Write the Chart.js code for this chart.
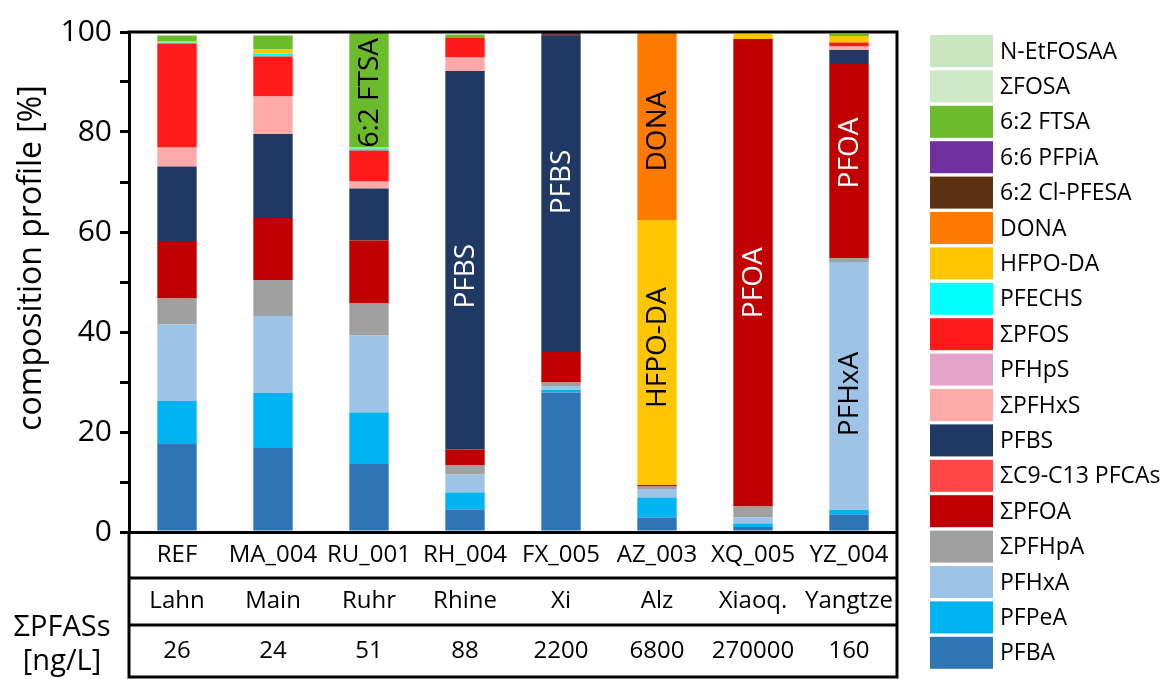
<!DOCTYPE html>
<html>
<head>
<meta charset="utf-8">
<script src="https://cdn.jsdelivr.net/npm/chart.js@4/dist/chart.umd.min.js"></script>
<style>
  html, body { margin: 0; padding: 0; background: #ffffff; }
  canvas { display: block; }
</style>
</head>
<body>
<canvas id="profile" width="1172" height="679"></canvas>
<script>
// Sampling sites, rivers and total PFAS concentration (ng/L)
const samples = ['REF', 'MA_004', 'RU_001', 'RH_004', 'FX_005', 'AZ_003', 'XQ_005', 'YZ_004'];
const rivers  = ['Lahn', 'Main', 'Ruhr', 'Rhine', 'Xi', 'Alz', 'Xiaoq.', 'Yangtze'];
const sumPFAS = ['26', '24', '51', '88', '2200', '6800', '270000', '160'];

// Composition profile (%) per compound, one value per sample
const PFBA      = [17.6, 16.8, 13.6,  4.5, 27.9,  2.9,  1.0,  3.5];
const PFPeA     = [ 8.6, 11.0, 10.3,  3.4,  0.5,  4.0,  0.7,  0.9];
const PFHxA     = [15.3, 15.4, 15.4,  3.6,  0.8,  1.7,  1.2, 49.6];
const PFHpA     = [ 5.2,  7.2,  6.4,  1.9,  0.7,  0.5,  2.2,  0.8];
const PFOA      = [11.5, 12.4, 12.6,  3.1,  6.1,  0.3, 93.5, 38.8];
const PFCA_C9_13= [ 0,    0,    0,    0,    0,    0,    0,    0  ];
const PFBS      = [14.9, 16.8, 10.4, 75.7, 63.2,  0,    0,    2.8];
const PFHxS     = [ 3.8,  7.5,  1.4,  2.7,  0,    0,    0,    0.7];
const PFHpS     = [ 0,    0,    0,    0,    0,    0,    0,    0  ];
const PFOS      = [20.8,  8.0,  6.2,  3.9,  0,    0,    0,    0.8];
const PFECHS    = [ 0.2,  0.6,  0.4,  0,    0,    0,    0,    0  ];
const HFPO_DA   = [ 0.3,  0.8,  0.2,  0,    0,   53.0,  1.0,  1.3];
const DONA      = [ 0,    0,    0,    0,    0,   37.6,  0,    0  ];
const Cl_PFESA  = [ 0,    0,    0,    0,    0.6,  0,    0,    0  ];
const PFPiA     = [ 0,    0,    0,    0,    0,    0,    0,    0  ];
const FTSA_62   = [ 1.1,  2.8, 23.1,  0.7,  0,    0,    0,    0.4];
const FOSA      = [ 0,    0,    0,    0,    0,    0,    0,    0  ];
const N_EtFOSAA = [ 0,    0,    0,    0,    0,    0,    0,    0  ];

const yTicks = [0, 20, 40, 60, 80, 100];

const FONT = "'Open Sans', 'Noto Sans', sans-serif";

// stacking order, bottom to top
const series = [
  ['PFBA',            PFBA,       '#2e75b6'],
  ['PFPeA',           PFPeA,      '#00b4f2'],
  ['PFHxA',           PFHxA,      '#9dc3e6'],
  ['ΣPFHpA',          PFHpA,      '#a0a0a0'],
  ['ΣPFOA',           PFOA,       '#c00000'],
  ['ΣC9-C13 PFCAs',   PFCA_C9_13, '#ff4747'],
  ['PFBS',            PFBS,       '#1f3864'],
  ['ΣPFHxS',          PFHxS,      '#ffa9a9'],
  ['PFHpS',           PFHpS,      '#e6a3c9'],
  ['ΣPFOS',           PFOS,       '#ff1a1a'],
  ['PFECHS',          PFECHS,     '#00ffff'],
  ['HFPO-DA',         HFPO_DA,    '#ffc600'],
  ['DONA',            DONA,       '#ff7a00'],
  ['6:2 Cl-PFESA',    Cl_PFESA,   '#6a4048'],
  ['6:6 PFPiA',       PFPiA,      '#7030a0'],
  ['6:2 FTSA',        FTSA_62,    '#6cbb2c'],
  ['ΣFOSA',           FOSA,       '#cde8c5'],
  ['N-EtFOSAA',       N_EtFOSAA,  '#c8e6bf']
];

// legend swatch colours (legend shows the brown tone for Cl-PFESA)
const legendColors = { '6:2 Cl-PFESA': '#5c3010' };

// names written inside dominant segments
const segmentLabels = [
  { sample: 'RU_001', compound: '6:2 FTSA', text: '6:2 FTSA', color: '#000000', dy: 3 },
  { sample: 'RH_004', compound: 'PFBS',     text: 'PFBS',     color: '#ffffff', dy: 16 },
  { sample: 'FX_005', compound: 'PFBS',     text: 'PFBS',     color: '#ffffff', dy: -12 },
  { sample: 'AZ_003', compound: 'DONA',     text: 'DONA',     color: '#000000', dy: 5 },
  { sample: 'AZ_003', compound: 'HFPO-DA',  text: 'HFPO-DA',  color: '#000000', dy: -5 },
  { sample: 'XQ_005', compound: 'ΣPFOA',    text: 'PFOA',     color: '#ffffff', dy: 10 },
  { sample: 'YZ_004', compound: 'ΣPFOA',    text: 'PFOA',     color: '#ffffff', dy: -8 },
  { sample: 'YZ_004', compound: 'PFHxA',    text: 'PFHxA',    color: '#000000', dy: 8 }
];

const datasets = series.map(([label, data, color]) => ({
  label, data, backgroundColor: color, borderWidth: 0,
  categoryPercentage: 1.0, barPercentage: 0.41
}));

const decorations = {
  id: 'decorations',
  afterDraw(chart) {
    const ctx = chart.ctx;
    const area = chart.chartArea;
    const x = chart.scales.x;
    const L = area.left, R = area.right, T = area.top, B = area.bottom;
    const rowLines = [578, 625, 677];
    ctx.save();

    // frame and table grid
    ctx.strokeStyle = '#000000';
    ctx.lineWidth = 3;
    ctx.beginPath();
    ctx.moveTo(L - 1.5, T); ctx.lineTo(R + 1.5, T);
    ctx.moveTo(R, T); ctx.lineTo(R, rowLines[2] + 1.5);
    ctx.moveTo(L, B); ctx.lineTo(L, rowLines[2] + 1.5);
    rowLines.forEach(y => { ctx.moveTo(L - 1.5, y); ctx.lineTo(R + 1.5, y); });
    ctx.stroke();

    // table rows
    ctx.fillStyle = '#000000';
    ctx.textAlign = 'center';
    ctx.textBaseline = 'middle';
    ctx.font = `24px ${FONT}`;
    samples.forEach((s, i) => ctx.fillText(s, x.getPixelForValue(i), 555));
    rivers.forEach((r, i) => ctx.fillText(r, x.getPixelForValue(i), 601));
    sumPFAS.forEach((v, i) => ctx.fillText(v, x.getPixelForValue(i), 651));
    ctx.font = `29px ${FONT}`;
    ctx.fillText('ΣPFASs', 62, 628);
    ctx.fillText('[ng/L]', 62, 662);

    // y-axis title
    ctx.save();
    ctx.translate(32, 258);
    ctx.rotate(-Math.PI / 2);
    ctx.font = `32px ${FONT}`;
    ctx.fillText('composition profile [%]', 0, 0);
    ctx.restore();

    // names inside bar segments
    ctx.font = `28px ${FONT}`;
    segmentLabels.forEach(lbl => {
      const di = chart.data.datasets.findIndex(d => d.label === lbl.compound);
      const idx = samples.indexOf(lbl.sample);
      const bar = chart.getDatasetMeta(di).data[idx];
      const cy = (bar.y + bar.base) / 2 + lbl.dy;
      ctx.save();
      ctx.translate(bar.x, cy);
      ctx.rotate(-Math.PI / 2);
      ctx.fillStyle = lbl.color;
      ctx.fillText(lbl.text, 0, 1);
      ctx.restore();
    });

    // legend, top entry = last stacked series
    ctx.textAlign = 'left';
    ctx.font = `23px ${FONT}`;
    const ds = chart.data.datasets;
    for (let k = 0; k < ds.length; k++) {
      const d = ds[ds.length - 1 - k];
      const cy = 51 + k * 35.4;
      ctx.fillStyle = legendColors[d.label] || d.backgroundColor;
      ctx.fillRect(930, cy - 16, 63, 32);
      ctx.fillStyle = '#000000';
      ctx.fillText(d.label, 1000, cy + 1);
    }
    ctx.restore();
  }
};

new Chart(document.getElementById('profile'), {
  type: 'bar',
  data: { labels: samples, datasets },
  options: {
    responsive: false,
    animation: false,
    layout: { padding: { left: 0, top: 32, right: 275, bottom: 147 } },
    plugins: { legend: { display: false }, tooltip: { enabled: false } },
    scales: {
      x: {
        stacked: true,
        grid: { display: false, drawTicks: false },
        ticks: { display: false },
        border: { display: true, color: '#000000', width: 3 },
        afterFit(scale) { scale.height = 0; }
      },
      y: {
        stacked: true,
        min: 0,
        max: 100,
        grid: { drawOnChartArea: false, drawTicks: true, tickLength: 9, lineWidth: 3, color: '#000000' },
        border: { display: true, color: '#000000', width: 3 },
        ticks: {
          stepSize: 10,
          autoSkip: false,
          padding: 8,
          color: '#000000',
          font: { family: FONT, size: 30 },
          callback: v => (yTicks.includes(v) ? String(v) : '')
        },
        afterFit(scale) { scale.width = 129; }
      }
    }
  },
  plugins: [decorations]
});
</script>
</body>
</html>
